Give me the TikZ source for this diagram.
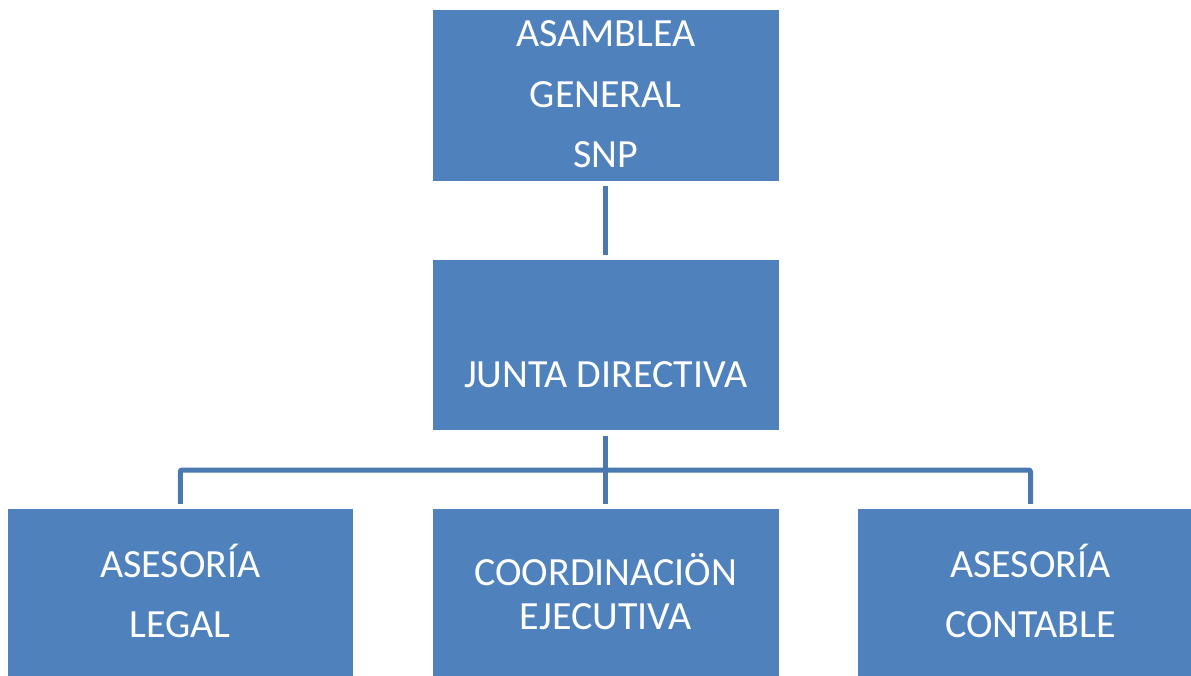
\documentclass[tikz,border=0pt]{standalone}
\usepackage{fontspec}
\setmainfont{Carlito}
\definecolor{boxblue}{HTML}{4F81BD}
\definecolor{lineblue}{HTML}{4A78B0}
\begin{document}
\begin{tikzpicture}[x=1pt,y=-1pt,
  orgbox/.style={fill=boxblue, draw=none, inner sep=0pt},
  lbl/.style={anchor=base, inner sep=0pt, text=white, font=\fontsize{40}{48}\selectfont},
  conn/.style={draw=lineblue, line width=5pt}]
\useasboundingbox (0,0) rectangle (1191,675);
\clip (0,0) rectangle (1191,675);
% boxes
\node[orgbox, minimum width=346.5pt, minimum height=171pt] (ag) at (605.75,95.5) {};
\node[orgbox, minimum width=346.5pt, minimum height=170pt] (jd) at (605.75,345) {};
\node[orgbox, minimum width=345.5pt, minimum height=170pt] (al) at (180.25,594) {};
\node[orgbox, minimum width=346.5pt, minimum height=170pt] (ce) at (605.75,594) {};
\node[orgbox, minimum width=345pt, minimum height=170pt] (ac) at (1030.5,594) {};
% texts
\node[lbl] (ag1) at (605.75,46) {ASAMBLEA};
\node[lbl] (ag2) at (605.75,107) {GENERAL};
\node[lbl] (ag3) at (605.75,167) {SNP};
\node[lbl] (jd1) at (605.75,387) {JUNTA DIRECTIVA};
\node[lbl] (al1) at (180.25,577) {ASESORÍA};
\node[lbl] (al2) at (180.25,637) {LEGAL};
\node[lbl] (ce1) at (605.75,585) {COORDINACIÖN};
\node[lbl] (ce2) at (605.75,629) {EJECUTIVA};
\node[lbl] (ac1) at (1030.5,577) {ASESORÍA};
\node[lbl] (ac2) at (1030.5,637) {CONTABLE};
% connectors
\coordinate (bus) at (605.75,470);
\draw[conn, shorten <=5pt, shorten >=5pt] (ag.south) -- (jd.north);
\draw[conn, shorten <=6pt, shorten >=5pt] (jd.south) -- (ce.north);
\draw[conn, shorten <=5pt, shorten >=5pt, rounded corners=2pt] (al.north) |- (bus) -| (ac.north);
\end{tikzpicture}
\end{document}
